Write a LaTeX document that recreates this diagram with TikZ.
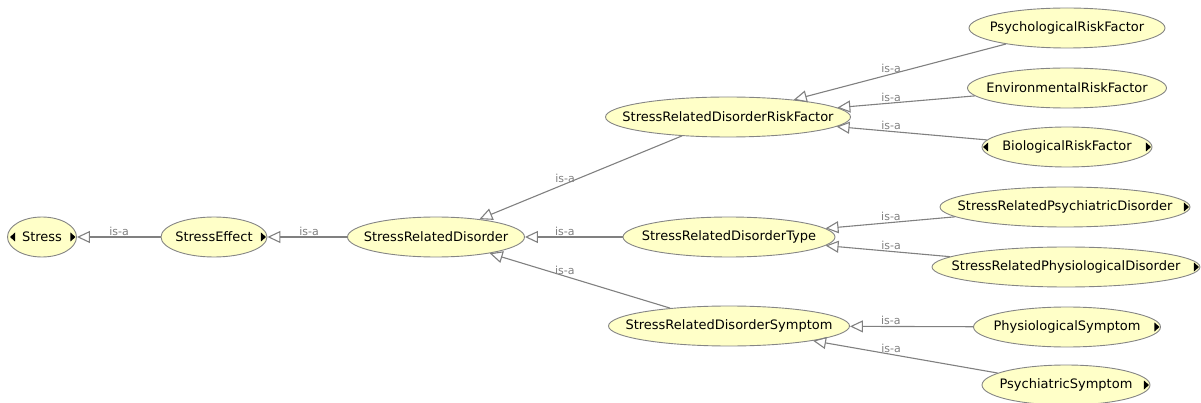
\documentclass[tikz,border=0pt]{standalone}
\usepackage{fontspec}
\setmainfont{DejaVu Sans}
\usetikzlibrary{arrows.meta,calc,shapes.geometric}
\definecolor{nodefill}{HTML}{FFFFC8}
\definecolor{edgegray}{HTML}{808080}
\definecolor{bordergray}{HTML}{858585}
\newcommand{\nt}[1]{\makebox[0pt]{#1}}
\begin{document}
\begin{tikzpicture}[x=1pt,y=-1pt,
  cls/.style={ellipse, draw=bordergray, fill=nodefill, line width=0.9pt, minimum height=40pt, inner sep=0pt, font=\fontsize{13}{15}\selectfont, text=black},
  isa/.style={draw=edgegray, line width=1.1pt, -{Triangle[open,length=13pt,width=12pt]}},
  lbl/.style={anchor=south, inner sep=1.5pt, text=edgegray, font=\fontsize{11}{12}\selectfont},
  tri/.style={fill=black}]
\useasboundingbox (0,0) rectangle (1201,403);

% nodes
\node[cls, minimum width=69pt]  (s)    at (42,237)   {\nt{Stress}};
\node[cls, minimum width=106pt] (se)   at (214,237)  {\nt{StressEffect}};
\node[cls, minimum width=177pt] (srd)  at (436,237)  {\nt{StressRelatedDisorder}};
\node[cls, minimum width=245pt] (rf)   at (728,117)  {\nt{StressRelatedDisorderRiskFactor}};
\node[cls, minimum width=212pt] (ty)   at (729,237)  {\nt{StressRelatedDisorderType}};
\node[cls, minimum width=241pt] (sy)   at (729,326)  {\nt{StressRelatedDisorderSymptom}};
\node[cls, minimum width=196pt] (prf)  at (1067,28)  {\nt{PsychologicalRiskFactor}};
\node[cls, minimum width=199pt] (erf)  at (1067,88)  {\nt{EnvironmentalRiskFactor}};
\node[cls, minimum width=170pt] (brf)  at (1067,147) {\nt{BiologicalRiskFactor}};
\node[cls, minimum width=250pt] (spd)  at (1065,207) {\nt{StressRelatedPsychiatricDisorder}};
\node[cls, minimum width=268pt] (sphd) at (1066,267) {\nt{StressRelatedPhysiologicalDisorder}};
\node[cls, minimum width=187pt] (phs)  at (1067,327) {\nt{PhysiologicalSymptom}};
\node[cls, minimum width=168pt] (pss)  at (1066,385) {\nt{PsychiatricSymptom}};

% markers
\fill[tri] ([xshift=-1.5pt]s.east) -- ++(-5,-4.5) -- ++(0,9) -- cycle;
\fill[tri] ([xshift=3pt]s.west) -- ++(5,-4.5) -- ++(0,9) -- cycle;
\fill[tri] ([xshift=-1.5pt]se.east) -- ++(-5,-4.5) -- ++(0,9) -- cycle;
\fill[tri] ([xshift=-1.5pt]brf.east) -- ++(-5,-4.5) -- ++(0,9) -- cycle;
\fill[tri] ([xshift=1.5pt]brf.west) -- ++(5,-4.5) -- ++(0,9) -- cycle;
\fill[tri] ([xshift=-1.5pt]spd.east) -- ++(-5,-4.5) -- ++(0,9) -- cycle;
\fill[tri] ([xshift=-1.5pt]sphd.east) -- ++(-5,-4.5) -- ++(0,9) -- cycle;
\fill[tri] ([xshift=-1.5pt]phs.east) -- ++(-5,-4.5) -- ++(0,9) -- cycle;
\fill[tri] ([xshift=-1.5pt]pss.east) -- ++(-5,-4.5) -- ++(0,9) -- cycle;

% edges
\draw[isa] (se) -- (s);
\draw[isa] (srd) -- (se);
\draw[isa] (rf) -- (srd);
\draw[isa] (ty) -- (srd);
\draw[isa] (sy) -- (srd);
\draw[isa] (prf) -- (rf);
\draw[isa] (erf) -- (rf);
\draw[isa] (brf) -- (rf);
\draw[isa] (spd) -- (ty);
\draw[isa] (sphd) -- (ty);
\draw[isa] (phs) -- (sy);
\draw[isa] (pss) -- (sy);

% labels
\path ($(s)!0.448!(se)$) node[lbl] {is-a};
\path ($(se)!0.428!(srd)$) node[lbl] {is-a};
\path ($(srd)!0.442!(rf)$) node[lbl] {is-a};
\path ($(srd)!0.440!(ty)$) node[lbl] {is-a};
\path ($(srd)!0.440!(sy)$) node[lbl] {is-a};
\path ($(rf)!0.481!(prf)$) node[lbl] {is-a};
\path ($(rf)!0.481!(erf)$) node[lbl] {is-a};
\path ($(rf)!0.481!(brf)$) node[lbl] {is-a};
\path ($(ty)!0.482!(spd)$) node[lbl] {is-a};
\path ($(ty)!0.481!(sphd)$) node[lbl] {is-a};
\path ($(sy)!0.479!(phs)$) node[lbl] {is-a};
\path ($(sy)!0.481!(pss)$) node[lbl] {is-a};
\end{tikzpicture}
\end{document}
